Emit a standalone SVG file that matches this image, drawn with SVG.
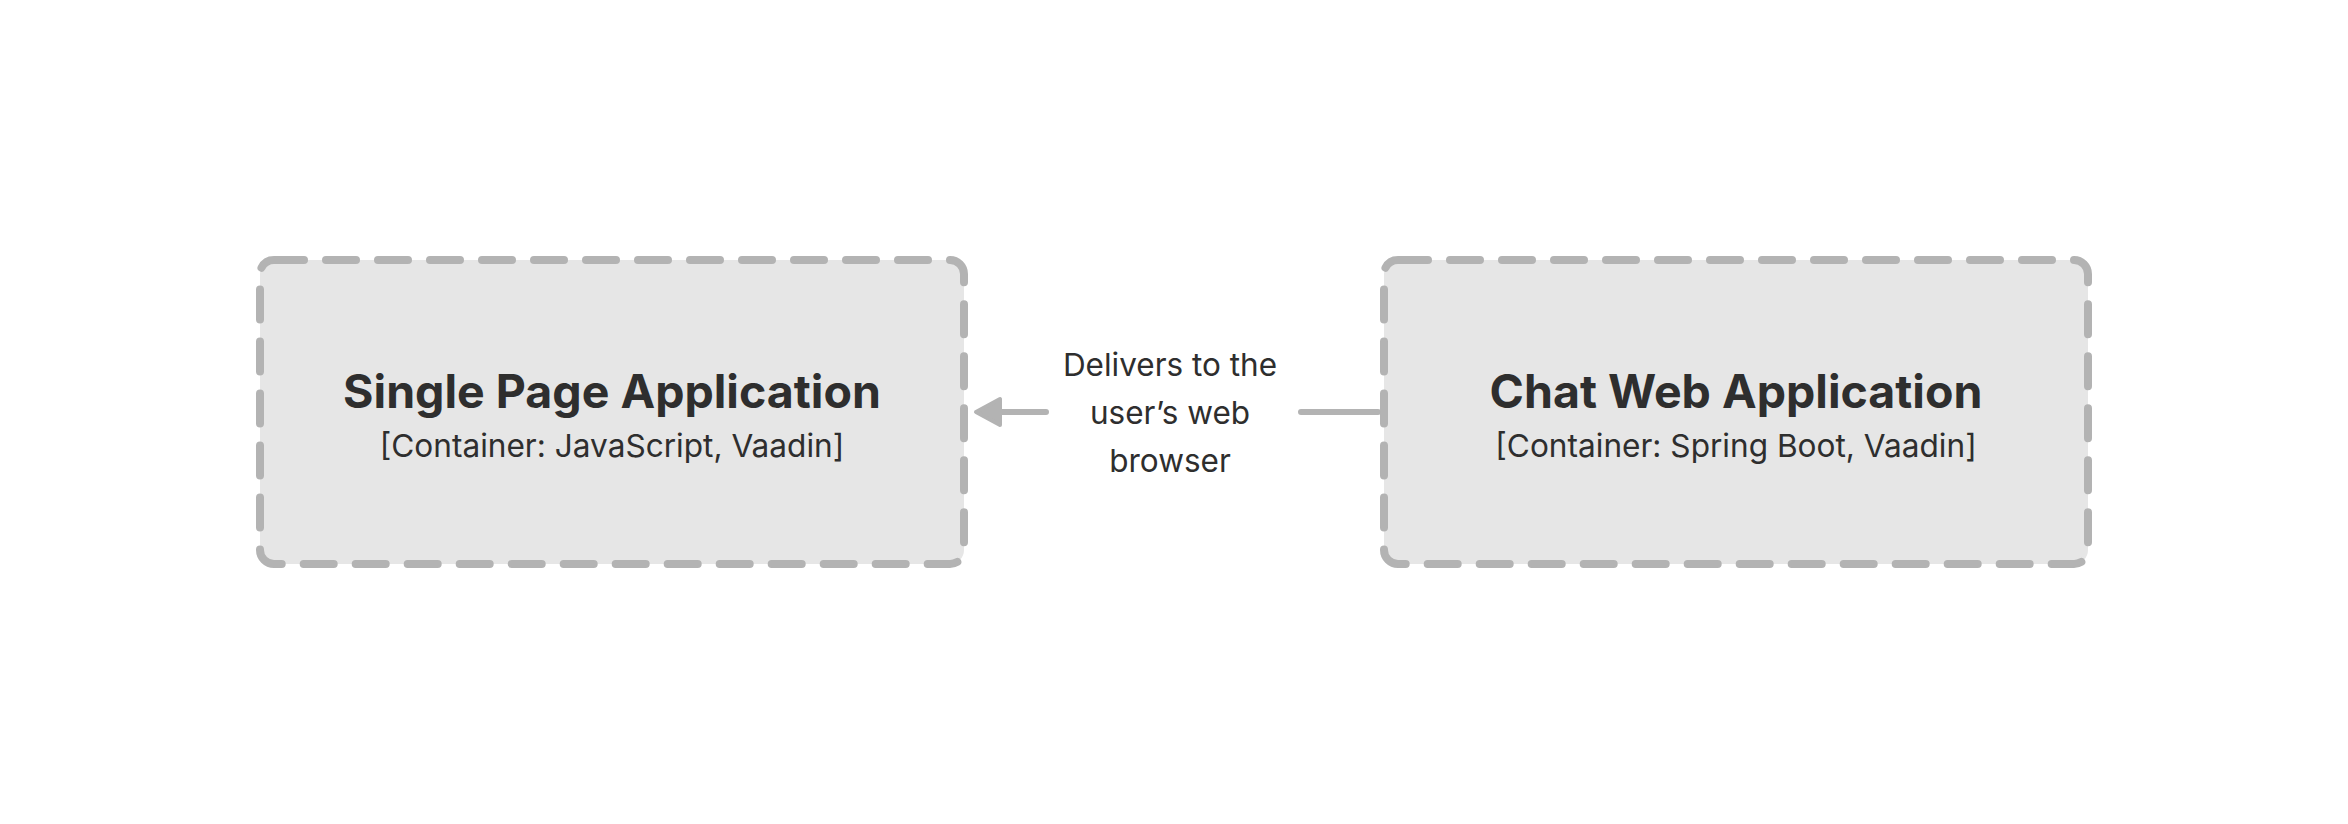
<svg xmlns="http://www.w3.org/2000/svg" width="2348" height="824" viewBox="0 0 2348 824">
  <style>
    .box { fill: #e6e6e6; stroke: #b3b3b3; stroke-width: 8; stroke-dasharray: 30 22; stroke-linecap: round; }
    .title { font-family: Inter, "Liberation Sans", sans-serif; font-weight: 700; font-size: 46.5px; fill: #2e2e2e; text-anchor: middle; }
    .sub { font-family: Inter, "Liberation Sans", sans-serif; font-size: 31.6px; fill: #2e2e2e; text-anchor: middle; }
    .lbl { font-family: Inter, "Liberation Sans", sans-serif; font-size: 31.5px; fill: #2e2e2e; text-anchor: middle; }
    .edge { stroke: #b3b3b3; stroke-width: 6; stroke-linecap: round; fill: none; }
    .head { fill: #b3b3b3; stroke: #b3b3b3; stroke-width: 4; stroke-linejoin: round; }
  </style>
  <rect width="2348" height="824" fill="#ffffff"/>
  <g id="node-spa">
    <rect class="box" x="260" y="260" width="704" height="304" rx="14" ry="14"/>
    <text class="title" x="612" y="408">Single Page Application</text>
    <text class="sub" x="612" y="457">[Container: JavaScript, Vaadin]</text>
  </g>
  <g id="node-chat">
    <rect class="box" x="1384" y="260" width="704" height="304" rx="14" ry="14"/>
    <text class="title" x="1736" y="408">Chat Web Application</text>
    <text class="sub" x="1736" y="457">[Container: Spring Boot, Vaadin]</text>
  </g>
  <g id="connectors">
    <path class="edge" d="M1378 412 L1301 412 M1046 412 L1000 412"/>
    <polygon class="head" points="976,412 1000,399 1000,425"/>
    <text class="lbl" x="1170" y="376">Delivers to the</text>
    <text class="lbl" x="1170" y="424">user’s web</text>
    <text class="lbl" x="1170" y="472">browser</text>
  </g>
</svg>
